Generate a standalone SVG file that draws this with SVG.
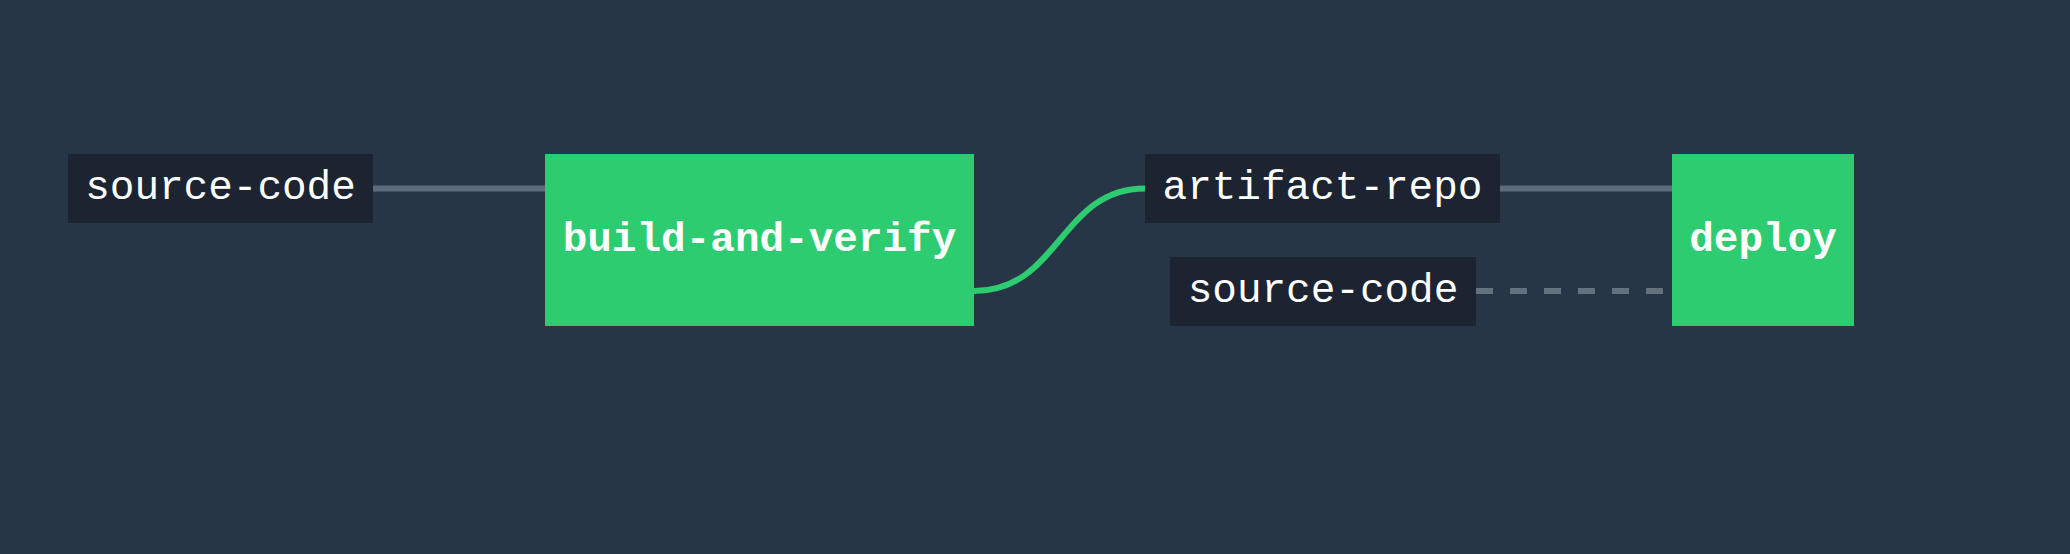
<svg xmlns="http://www.w3.org/2000/svg" width="2070" height="554" viewBox="0 0 2070 554">
  <style>
    .bg { fill: #273647; }
    .res rect { fill: #1c2431; }
    .job rect { fill: #2ecc71; }
    .res text { font-family: "Liberation Mono", "Courier New", monospace; font-size: 41px; fill: #ffffff; text-anchor: middle; }
    .job text { font-family: "Liberation Mono", "Courier New", monospace; font-size: 41px; font-weight: bold; fill: #ffffff; text-anchor: middle; }
    .edge { fill: none; stroke: #5d6c7d; stroke-width: 6; }
    .edge.green { stroke: #2ecc71; }
    .edge.dashed { stroke: #64717f; stroke-dasharray: 17 17; }
  </style>
  <rect class="bg" x="0" y="0" width="2070" height="554"/>
  <g id="connectors">
    <path class="edge" d="M373,188.5 L545,188.5"/>
    <path class="edge green" d="M974,291 C1060,291 1060,188.5 1145,188.5"/>
    <path class="edge" d="M1500,188.5 L1672,188.5"/>
    <path class="edge dashed" d="M1476,291 L1672,291"/>
  </g>
  <g id="source-code-1" class="res">
    <rect x="68" y="154" width="305" height="69"/>
    <text x="220.5" y="199">source-code</text>
  </g>
  <g id="build-and-verify" class="job">
    <rect x="545" y="154" width="429" height="172"/>
    <text x="759.5" y="251">build-and-verify</text>
  </g>
  <g id="artifact-repo" class="res">
    <rect x="1145" y="154" width="355" height="69"/>
    <text x="1322.5" y="199">artifact-repo</text>
  </g>
  <g id="source-code-2" class="res">
    <rect x="1170" y="257" width="306" height="69"/>
    <text x="1323" y="302">source-code</text>
  </g>
  <g id="deploy" class="job">
    <rect x="1672" y="154" width="182" height="172"/>
    <text x="1763" y="251">deploy</text>
  </g>
</svg>
